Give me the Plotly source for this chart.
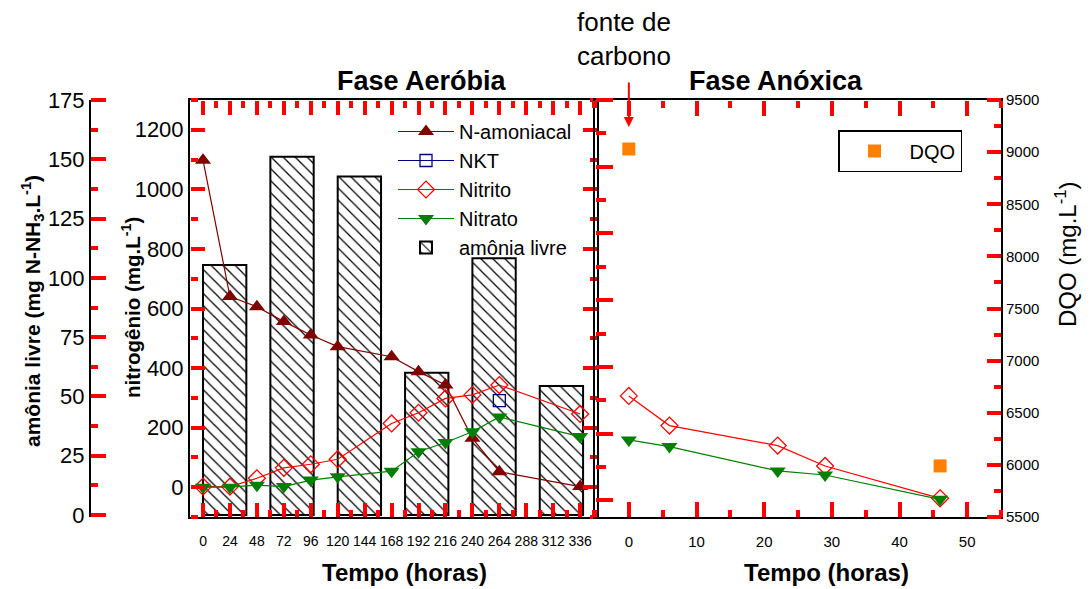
import plotly.graph_objects as go

FONT = "Liberation Sans, Arial, sans-serif"
NARROW = "Liberation Sans Narrow, Arial Narrow, Liberation Sans, sans-serif"
W, H = 1092, 589

# ---- Fase aeróbia (tempo em horas) ----
t_aer = [0, 24, 48, 72, 96, 120, 168, 192, 216, 240, 264, 336]
n_amoniacal = [1098, 640, 606, 556, 511, 472, 438, 388, 343, 164, 52, 2]
nitrito_aer = [2, 2, 30, 65, 77, 94, 214, 250, 298, 310, 343, 246]
nitrato_aer = [0, 0, 7, 2, 24, 35, 54, 119, 150, 186, 236, 170]
t_nkt = [264]
nkt = [291]

# amônia livre (barras)
t_amonia = [0, 60, 120, 180, 240, 300]
amonia_livre = [105.4, 151.1, 142.7, 60.0, 108.3, 54.4]

# ---- Fase anóxica (tempo em horas) ----
t_anox = [0, 6, 22, 29, 46]
nitrito_anox = [313, 224, 164, 103, 6]
nitrato_anox = [181, 161, 88, 76, 3]
t_dqo = [0, 46]
dqo = [9030, 5990]

# axis ranges
X_AER = [-11.6, 351]
Y_NIT = [-100, 1300]
Y_AML = [-0.84, 175]
X_ANX = [-5, 55]
Y_ANX = [-50, 1200]
Y_DQO = [5500, 9500]

# frame edges in page pixels
AER_L, AER_R, ANX_L, ANX_R = 190, 597, 595, 1001
TOP, BOTTOM, AML_X = 100, 517, 90
TICK_COLOR = "red"
TICK_W = 4


def px(x):
    return x / W


def py(y):
    return 1 - y / H


Y_DOM = [py(BOTTOM), py(TOP)]


def axis_style(**kw):
    d = dict(
        showline=True, linecolor="black", linewidth=2, ticks="",
        showgrid=False, zeroline=False, automargin=False,
        tickfont=dict(family=FONT, size=22, color="black"),
    )
    d.update(kw)
    return d


def tick_axis(overlay, rng, side, position, tick0, dtick, length,
              minor_dtick, minor_len):
    """Label-less axis laid on a frame edge; its outside ticks point
    into the plot, giving the inward major/minor ticks of the frame."""
    return dict(
        overlaying=overlay, anchor="free", position=position, side=side,
        range=rng, showline=False, showgrid=False, zeroline=False,
        showticklabels=False, automargin=False, fixedrange=True,
        ticks="outside", ticklen=length, tickwidth=TICK_W,
        tickcolor=TICK_COLOR, tick0=tick0, dtick=dtick,
        minor=dict(ticks="outside", tick0=tick0, dtick=minor_dtick,
                   ticklen=minor_len, tickwidth=TICK_W,
                   tickcolor=TICK_COLOR, showgrid=False),
    )


fig = go.Figure()

fig.add_trace(go.Bar(
    x=t_amonia, y=amonia_livre, xaxis="x", yaxis="y",
    offset=0, width=38.6, name="amônia livre", legendrank=5,
    marker=dict(color="white", line=dict(color="black", width=2),
                pattern=dict(shape="\\", fgcolor="black", bgcolor="white",
                             size=8.5, solidity=0.15)),
))

fig.add_trace(go.Scatter(
    x=t_aer, y=n_amoniacal, xaxis="x", yaxis="y2", mode="lines+markers",
    name="N-amoniacal", legendrank=1,
    line=dict(color="#800000", width=1.2),
    marker=dict(symbol="triangle-up", size=14, color="#800000"),
))
fig.add_trace(go.Scatter(
    x=t_nkt, y=nkt, xaxis="x", yaxis="y2", mode="lines+markers",
    name="NKT", legendrank=2,
    line=dict(color="#000080", width=1.2),
    marker=dict(symbol="square-open", size=12, color="#000080",
                line=dict(width=1.3)),
))
fig.add_trace(go.Scatter(
    x=t_aer, y=nitrito_aer, xaxis="x", yaxis="y2", mode="lines+markers",
    name="Nitrito", legendrank=3,
    line=dict(color="#FF0000", width=1.2),
    marker=dict(symbol="diamond-open", size=13, color="#FF0000",
                line=dict(width=1.3)),
))
fig.add_trace(go.Scatter(
    x=t_aer, y=nitrato_aer, xaxis="x", yaxis="y2", mode="lines+markers",
    name="Nitrato", legendrank=4,
    line=dict(color="#008000", width=1.2),
    marker=dict(symbol="triangle-down", size=14, color="#008000"),
))

fig.add_trace(go.Scatter(
    x=t_anox, y=nitrito_anox, xaxis="x2", yaxis="y3", mode="lines+markers",
    showlegend=False, line=dict(color="#FF0000", width=1.2),
    marker=dict(symbol="diamond-open", size=13, color="#FF0000",
                line=dict(width=1.3)),
))
fig.add_trace(go.Scatter(
    x=t_anox, y=nitrato_anox, xaxis="x2", yaxis="y3", mode="lines+markers",
    showlegend=False, line=dict(color="#008000", width=1.2),
    marker=dict(symbol="triangle-down", size=14, color="#008000"),
))
fig.add_trace(go.Scatter(
    x=t_dqo, y=dqo, xaxis="x2", yaxis="y4", mode="markers",
    name="DQO", legend="legend2",
    marker=dict(symbol="square", size=13, color="#FF8000"),
))

# empty traces so each tick-only axis gets its subplot drawn
for xa, ya in [("x4", "y"), ("x5", "y"), ("x6", "y3"), ("x7", "y3"),
               ("x", "y5"), ("x", "y6"), ("x", "y7"),
               ("x2", "y8"), ("x2", "y9")]:
    fig.add_trace(go.Scatter(x=[], y=[], xaxis=xa, yaxis=ya, mode="lines",
                             showlegend=False, hoverinfo="skip"))

fig.update_layout(
    template="none",
    width=W, height=H,
    margin=dict(l=0, r=0, t=0, b=0, autoexpand=False),
    paper_bgcolor="white", plot_bgcolor="rgba(0,0,0,0)",
    font=dict(family=FONT, color="black"),
    barmode="overlay",
    xaxis=axis_style(
        domain=[px(AER_L), px(AER_R)], anchor="y", range=X_AER, mirror=True,
        tick0=0, dtick=24, ticklabelstandoff=10,
        tickfont=dict(family=FONT, size=14, color="black"),
    ),
    yaxis=axis_style(
        domain=Y_DOM, anchor="free", position=px(AML_X), side="left",
        range=Y_AML, tick0=0, dtick=25,
    ),
    yaxis2=axis_style(
        overlaying="y", anchor="x", side="left", range=Y_NIT,
        tick0=0, dtick=200, mirror=True,
    ),
    xaxis2=axis_style(
        domain=[px(ANX_L), px(ANX_R)], anchor="y3", range=X_ANX, mirror=True,
        tick0=0, dtick=10, ticklabelstandoff=10,
        tickfont=dict(family=FONT, size=15, color="black"),
    ),
    yaxis3=axis_style(
        domain=Y_DOM, anchor="x2", side="left", range=Y_ANX,
        tick0=0, dtick=200, showticklabels=False,
    ),
    yaxis4=axis_style(
        overlaying="y3", anchor="x2", side="right", range=Y_DQO,
        tick0=5500, dtick=500,
        tickfont=dict(family=FONT, size=15, color="black"),
    ),
    # inward ticks on every frame edge
    xaxis4=tick_axis("x", X_AER, "top", Y_DOM[0], 0, 24, 14, 12, 7),
    xaxis5=tick_axis("x", X_AER, "bottom", Y_DOM[1], 0, 24, 14, 12, 7),
    xaxis6=tick_axis("x2", X_ANX, "top", Y_DOM[0], 0, 10, 15, 5, 7),
    xaxis7=tick_axis("x2", X_ANX, "bottom", Y_DOM[1], 0, 10, 15, 5, 7),
    yaxis5=tick_axis("y", Y_NIT, "right", px(AER_L), 0, 200, 14, 100, 7),
    yaxis6=tick_axis("y", Y_NIT, "left", px(AER_R), 0, 200, 14, 100, 7),
    yaxis7=tick_axis("y", Y_AML, "right", px(AML_X), 0, 25, 15, 12.5, 7),
    yaxis8=tick_axis("y3", Y_ANX, "right", px(ANX_L), 0, 200, 17, 100, 10),
    yaxis9=tick_axis("y3", Y_DQO, "left", px(ANX_R), 5500, 500, 14, 250, 7),
    legend=dict(
        x=px(393), y=py(112), xanchor="left", yanchor="top",
        bgcolor="rgba(0,0,0,0)", borderwidth=0, itemwidth=56,
        font=dict(family=FONT, size=20, color="black"),
    ),
    legend2=dict(
        x=px(838), y=py(130), xanchor="left", yanchor="top",
        bgcolor="white", bordercolor="black", borderwidth=1.5, itemwidth=60,
        font=dict(family=FONT, size=20, color="black"),
    ),
)

annotations = [
    dict(text="<b>Fase Aeróbia</b>", x=px(422), y=py(81), size=27),
    dict(text="<b>Fase Anóxica</b>", x=px(776), y=py(81), size=27),
    dict(text="<b>Tempo (horas)</b>", x=px(404), y=py(572), size=24),
    dict(text="<b>Tempo (horas)</b>", x=px(826), y=py(572), size=24),
    dict(text="<b>amônia livre (mg N-NH<sub>3</sub>.L<sup>-1</sup>)</b>",
         x=px(32), y=py(311), size=21, angle=-90),
    dict(text="<b>nitrogênio (mg.L<sup>-1</sup>)</b>",
         x=px(131), y=py(308), size=20.5, angle=-90),
    dict(text="DQO (mg.L<sup>-1</sup>)", x=px(1066), y=py(254), size=24,
         angle=-90),
]
for a in annotations:
    fig.add_annotation(
        text=a["text"], x=a["x"], y=a["y"], xref="paper", yref="paper",
        xanchor="center", yanchor="middle", showarrow=False,
        textangle=a.get("angle", 0),
        font=dict(family=FONT, size=a["size"], color="black"),
    )

fig.add_annotation(
    text="fonte de<br>carbono", x=px(624), y=py(39), xref="paper", yref="paper",
    xanchor="center", yanchor="middle", showarrow=False,
    font=dict(family=NARROW, size=26, color="black"),
)
fig.add_annotation(
    text="", x=0, y=py(127), xref="x2", yref="paper",
    showarrow=True, ax=0, ay=-46, arrowhead=2, arrowsize=1,
    arrowwidth=2, arrowcolor="#FF0000", standoff=0,
)

fig.write_html("out.html")
